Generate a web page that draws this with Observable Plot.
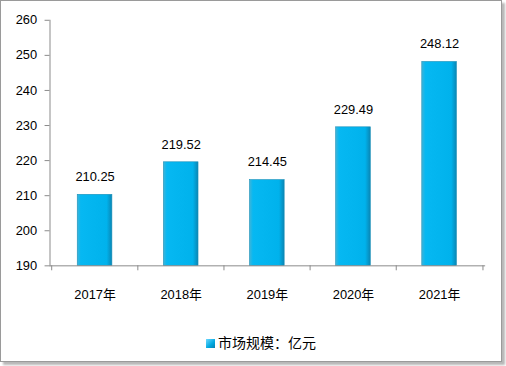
<!DOCTYPE html>
<html><head><meta charset="utf-8">
<script src="https://cdn.jsdelivr.net/npm/d3@7"></script>
<script src="https://cdn.jsdelivr.net/npm/@observablehq/plot@0.6"></script>
<style>
body{margin:0;background:#fff;font-family:"Liberation Sans","Noto Sans CJK SC",sans-serif;}
#frame{position:absolute;left:0;top:0;width:500px;height:360px;border:1px solid #9a9a9a;box-shadow:3px 3px 2px #b8b8b8;background:#fff;}
#chart{position:absolute;left:-1px;top:-1px;}
#legend{position:absolute;left:10px;top:333px;width:500px;text-align:center;font-size:14px;color:#000;font-family:"Noto Sans CJK SC",sans-serif;line-height:16px;}
#legend .sw{display:inline-block;width:9px;height:9px;background:linear-gradient(135deg,#6fd8ff,#00a8e0 60%,#0a7fb0);margin-right:3px;vertical-align:0px;}
</style></head>
<body>
<div id="frame"><div id="chart"></div><div id="legend"><span class="sw"></span>市场规模：亿元</div></div>
<script>
const years = ["2017年","2018年","2019年","2020年","2021年"];
const values = [210.25, 219.52, 214.45, 229.49, 248.12];
const yTicks = [190,200,210,220,230,240,250,260];
const data = years.map((y,i)=>({year:y, value:values[i]}));

const step = 438/5;
const chart = Plot.plot({
  width: 506, height: 310,
  marginLeft: 50, marginRight: 17, marginTop: 20, marginBottom: 42,
  style:{fontFamily:'"Liberation Sans","Noto Sans CJK SC",sans-serif', fontSize:"13px", color:"#000", background:"transparent"},
  x:{domain: years, paddingInner:0.6, paddingOuter:0.3, label:null},
  y:{domain:[190,260], label:null},
  marks:[
    Plot.barY(data,{x:"year", y1:190, y2:"value", fill:"url(#barGrad)", stroke:"#1a8fb8", strokeWidth:0.6}),
    Plot.text(data,{x:"year", y:"value", text:d=>d.value.toFixed(2), dy:-18, fontSize:13, fill:"#000"}),
    Plot.frame({anchor:"left", stroke:"#8a8a8a"}),
    Plot.frame({anchor:"bottom", stroke:"#8a8a8a"}),
    Plot.axisY({ticks:yTicks, tickSize:5, tickPadding:8, stroke:"#8a8a8a", fontSize:13, fill:"#000"}),
    Plot.axisX({tickSize:5, text:null, dx:-step/2, stroke:"#8a8a8a"}),
    Plot.axisX({ticks:[years[years.length-1]], tickSize:5, text:null, dx:step/2, stroke:"#8a8a8a"}),
    Plot.axisX({tickSize:0, tickPadding:24, fontSize:13, fill:"#000",
      fontFamily:'"Liberation Sans","Noto Sans CJK SC",sans-serif'})
  ]
});
const ns="http://www.w3.org/2000/svg";
const defs=document.createElementNS(ns,"defs");
defs.innerHTML=`<linearGradient id="barGrad" x1="0" y1="0" x2="1" y2="0">
<stop offset="0" stop-color="#3fb4d8"/>
<stop offset="0.1" stop-color="#06b8f2"/>
<stop offset="0.85" stop-color="#00b2ec"/>
<stop offset="1" stop-color="#0a86b4"/>
</linearGradient>`;
chart.insertBefore(defs, chart.firstChild);
document.getElementById("chart").appendChild(chart);
</script>
</body></html>
